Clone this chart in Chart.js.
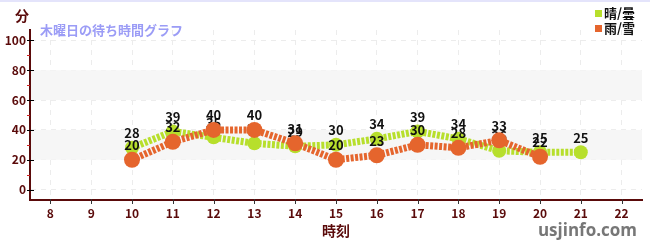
<!DOCTYPE html>
<html>
<head>
<meta charset="utf-8">
<script src="https://cdn.jsdelivr.net/npm/chart.js@4/dist/chart.umd.min.js"></script>
<style>
  body { margin: 0; background: #fff; }
  #wrap { width: 650px; height: 250px; }
</style>
</head>
<body>
<div id="wrap"><canvas id="myChart" width="650" height="250"></canvas></div>
<script>
// hours on the x axis
var hours = ['8', '9', '10', '11', '12', '13', '14', '15', '16', '17', '18', '19', '20', '21', '22']
// wait times (minutes), null where no data
var sunny = [null, null, 28, 39, 35, 31, 29, 30, 34, 39, 34, 26, 25, 25, null]
var rainy = [null, null, 20, 32, 40, 40, 31, 20, 23, 30, 28, 33, 22, null, null]
var yTicks = [0, 20, 40, 60, 80, 100]
var minorTicks = [10, 30, 50, 70, 90]
var bands = [[20, 40], [60, 80]]

var green = '#b7df2c'
var orange = '#e5652d'
var dark = '#5a0a0a'
var jp = '"Noto Sans CJK JP", "Noto Sans", sans-serif'

// extra drawing: bands, ticks, labels, titles
var decor = {
  id: 'decor',
  beforeDatasetsDraw: function (chart) {
    var c = chart.ctx
    var a = chart.chartArea
    var y = chart.scales.y
    c.save()
    c.fillStyle = '#f6f6f6'
    bands.forEach(function (b) {
      var y1 = y.getPixelForValue(b[1])
      var y0 = y.getPixelForValue(b[0])
      c.fillRect(a.left + 1, y1, a.right - a.left - 1, y0 - y1)
    })
    c.restore()
  },
  // value labels go right after their own dataset
  afterDatasetDraw: function (chart, args) {
    var c = chart.ctx
    var vals = chart.data.datasets[args.index].data
    c.save()
    c.font = 'bold 13px ' + jp
    c.fillStyle = '#111'
    c.textAlign = 'center'
    c.textBaseline = 'bottom'
    args.meta.data.forEach(function (pt, i) {
      if (vals[i] == null) return
      c.fillText(String(vals[i]), pt.x, pt.y - 8)
    })
    c.restore()
  },
  afterDraw: function (chart) {
    var c = chart.ctx
    var a = chart.chartArea
    var x = chart.scales.x
    var y = chart.scales.y
    c.save()
    // top border
    c.strokeStyle = '#e4e4fb'
    c.lineWidth = 2
    c.beginPath(); c.moveTo(0, 1); c.lineTo(650, 1); c.stroke()
    // y ticks
    c.lineWidth = 1
    c.strokeStyle = '#000'
    yTicks.forEach(function (v) {
      var p = Math.round(y.getPixelForValue(v)) + 0.5
      c.beginPath(); c.moveTo(a.left - 3, p); c.lineTo(a.left + 4, p); c.stroke()
    })
    c.strokeStyle = '#d02020'
    minorTicks.forEach(function (v) {
      var p = Math.round(y.getPixelForValue(v)) + 0.5
      c.beginPath(); c.moveTo(a.left - 3, p); c.lineTo(a.left, p); c.stroke()
    })
    // x ticks
    c.strokeStyle = '#333'
    hours.forEach(function (h, i) {
      var p = Math.round(x.getPixelForValue(i)) + 0.5
      c.beginPath(); c.moveTo(p, a.bottom - 1); c.lineTo(p, a.bottom + 4); c.stroke()
    })
    // axis titles
    c.fillStyle = dark
    c.textAlign = 'center'
    c.font = 'bold 14px ' + jp
    c.textBaseline = 'middle'
    c.fillText('分', 22, 16)
    c.fillText('時刻', 336, 231)
    // chart title
    c.textAlign = 'left'
    c.font = 'bold 13px ' + jp
    c.fillStyle = '#9b9cf6'
    c.fillText('木曜日の待ち時間グラフ', 40, 30)
    // legend
    c.font = 'bold 13px ' + jp
    c.fillStyle = green
    c.fillRect(595, 10, 7, 7)
    c.fillStyle = orange
    c.fillRect(595, 25, 7, 7)
    c.fillStyle = '#111'
    c.fillText('晴/曇', 604, 13)
    c.fillText('雨/雪', 604, 28)
    // watermark
    c.textAlign = 'right'
    c.font = 'bold 17px "Open Sans", "DejaVu Sans", sans-serif'
    c.fillStyle = '#777'
    c.fillText('usjinfo.com', 637, 231)
    c.restore()
  }
}

var ctx = document.getElementById('myChart')
/* eslint-disable no-unused-vars, no-undef */
var myChart = new Chart(ctx, {
  type: 'line',
  data: {
    labels: hours,
    datasets: [{
      label: '晴/曇',
      data: sunny,
      order: 1,
      borderColor: green,
      backgroundColor: green,
      borderWidth: 7,
      borderDash: [3, 1.5],
      borderCapStyle: 'butt',
      pointRadius: 7,
      pointHoverRadius: 7,
      pointBorderWidth: 0,
      tension: 0,
      spanGaps: false
    }, {
      label: '雨/雪',
      data: rainy,
      order: 0,
      borderColor: orange,
      backgroundColor: orange,
      borderWidth: 7,
      borderDash: [3, 1.5],
      borderCapStyle: 'butt',
      pointRadius: 8,
      pointHoverRadius: 8,
      pointBorderWidth: 0,
      tension: 0,
      spanGaps: false
    }]
  },
  options: {
    responsive: false,
    animation: false,
    layout: { padding: { top: 30, right: 8, left: 0, bottom: 0 } },
    plugins: { legend: { display: false }, tooltip: { enabled: false } },
    scales: {
      x: {
        type: 'category',
        offset: true,
        afterFit: function (s) { s.height = 50 },
        grid: { offset: false, color: '#ececec', drawTicks: false, tickLength: 0 },
        border: { display: true, color: dark, width: 2, dash: [5, 5] },
        ticks: { color: dark, padding: 6, font: { family: jp, size: 12, weight: 'bold' } }
      },
      y: {
        min: -7,
        max: 107,
        afterFit: function (s) { s.width = 30 },
        grid: { color: '#ececec', drawTicks: false, tickLength: 0 },
        border: { display: true, color: dark, width: 2, dash: [5, 5] },
        ticks: {
          stepSize: 20,
          includeBounds: false,
          color: dark,
          padding: 4,
          font: { family: jp, size: 12, weight: 'bold' }
        }
      }
    }
  },
  plugins: [decor]
})
</script>
</body>
</html>
